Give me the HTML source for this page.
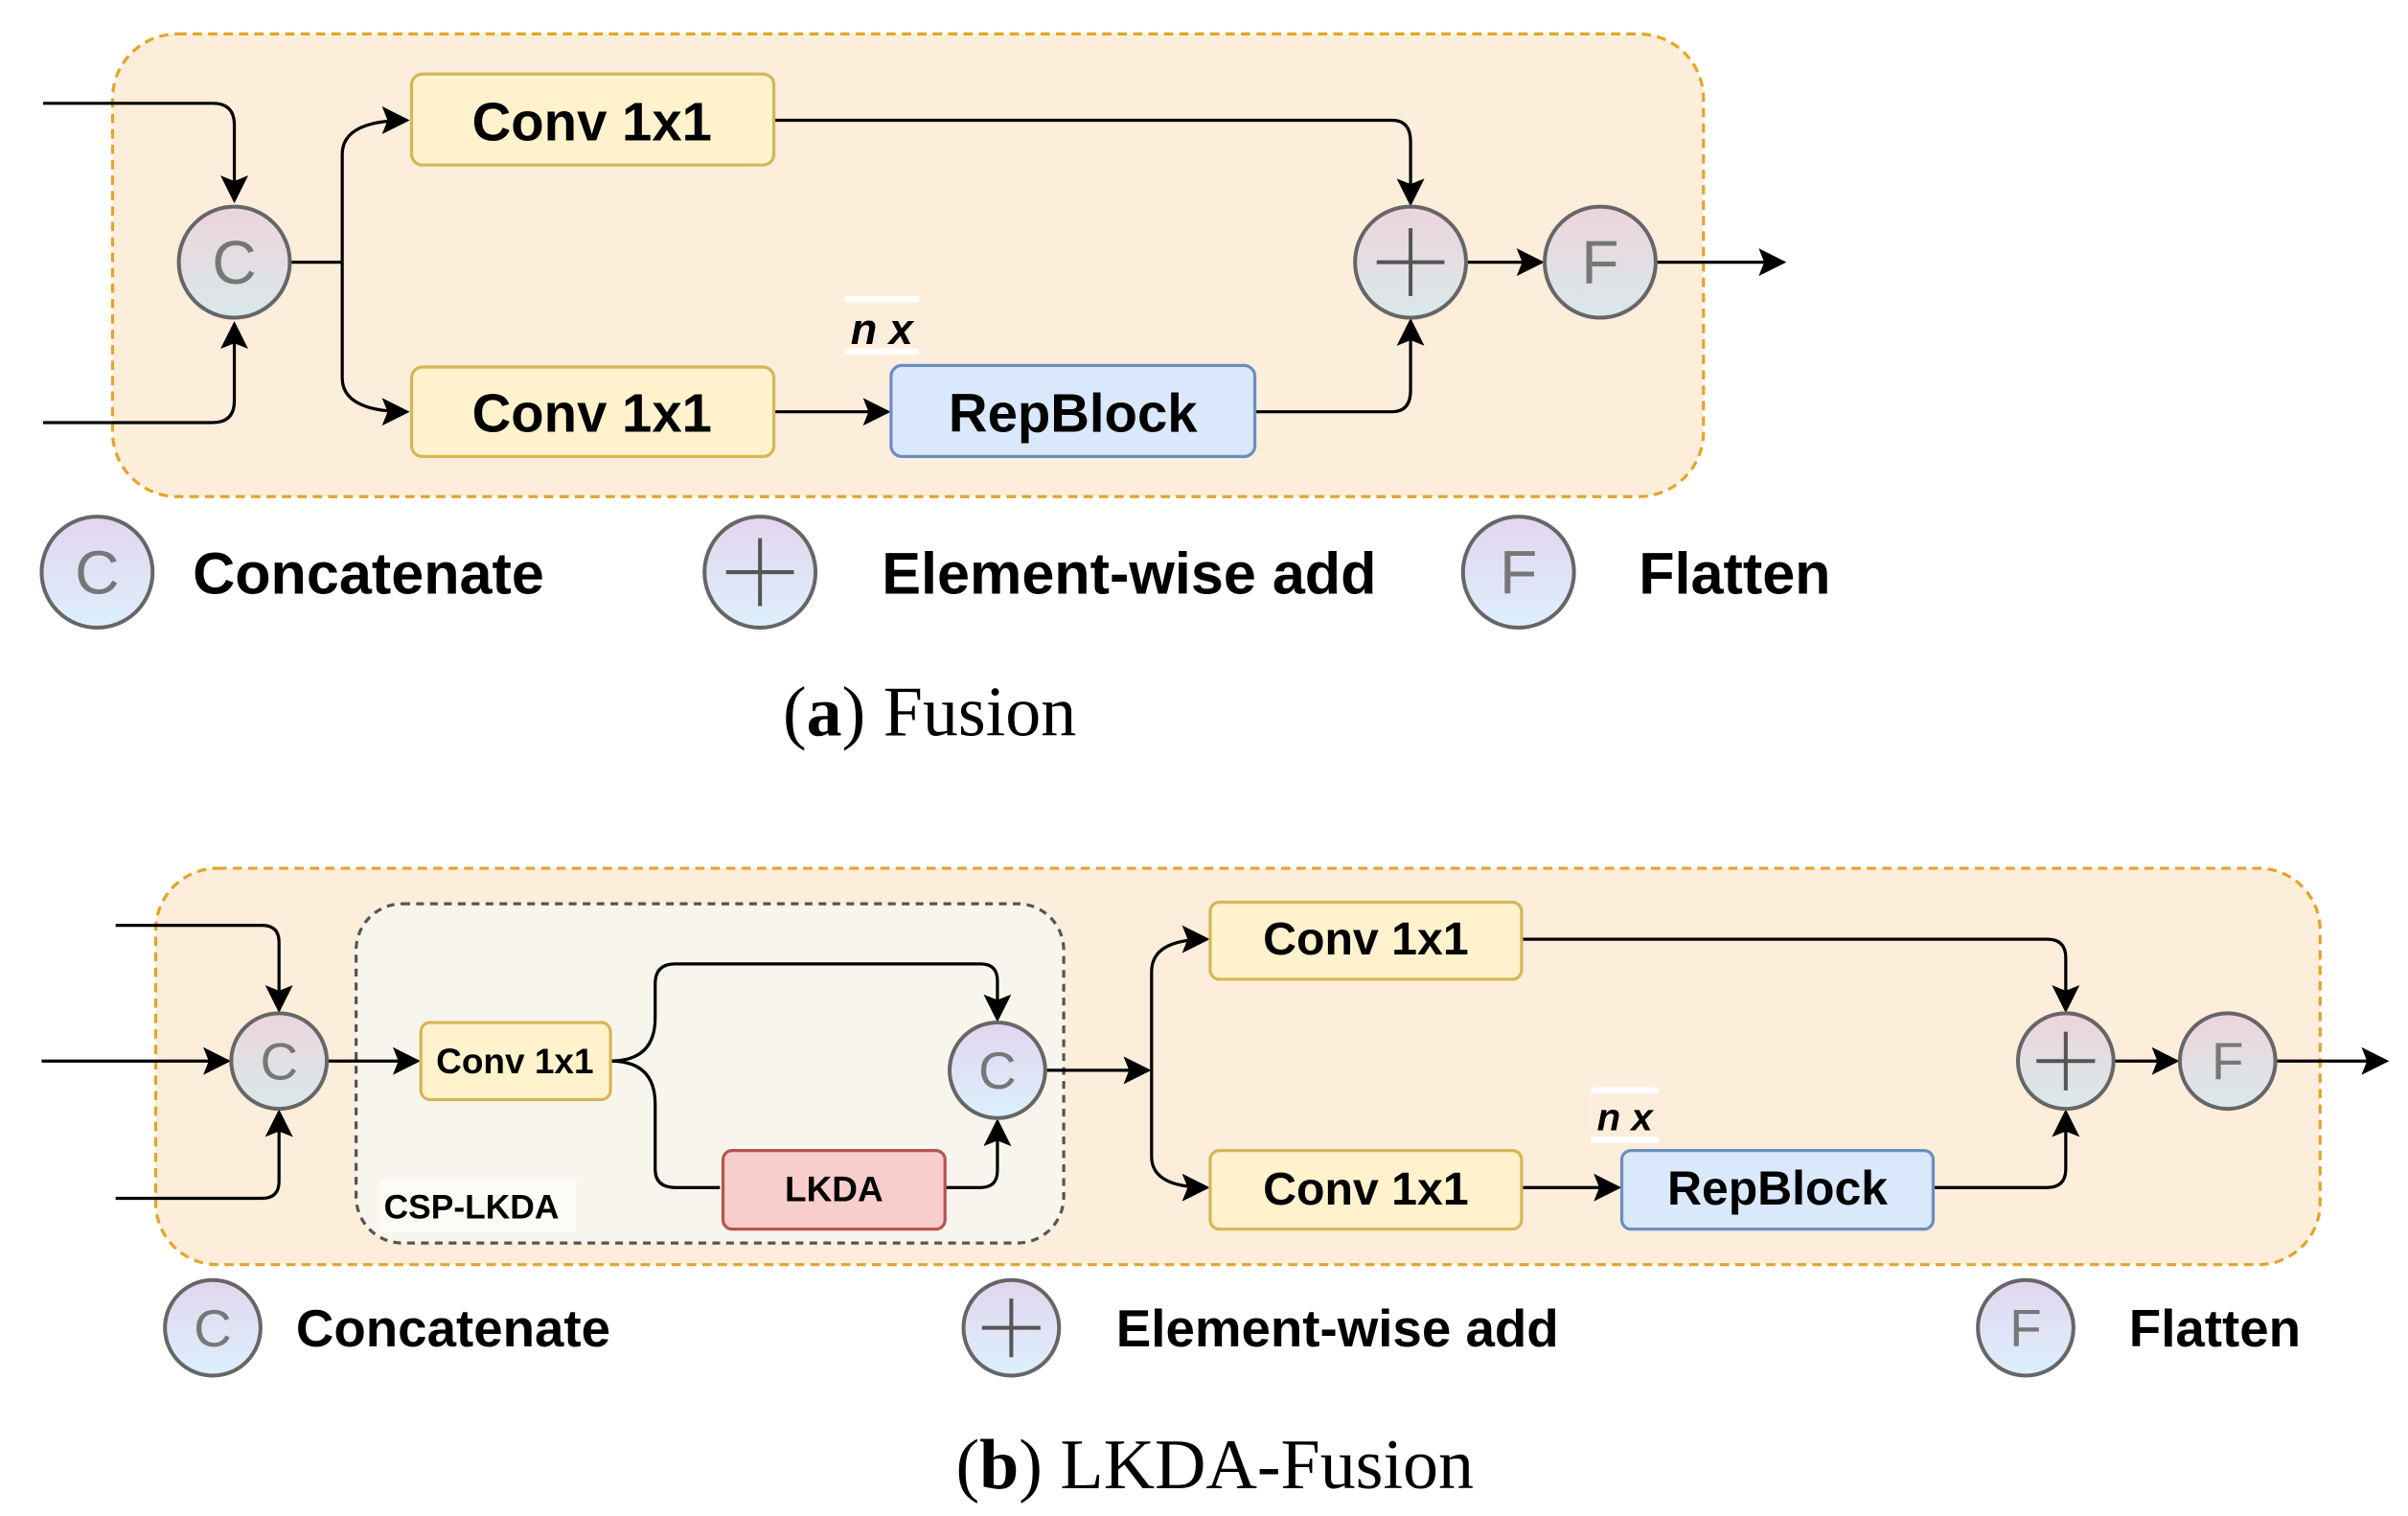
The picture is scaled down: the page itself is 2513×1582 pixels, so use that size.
<!DOCTYPE html>
<html><head><meta charset="utf-8"><style>
html,body{margin:0;padding:0;background:#fff;}
svg{display:block;}
.sans{font-family:"Liberation Sans",sans-serif;}
</style></head><body>
<svg width="2513" height="1582" viewBox="0 0 1562 983" preserveAspectRatio="none" xmlns="http://www.w3.org/2000/svg">
<defs>
<marker id="ab" viewBox="0 0 10 10" refX="9" refY="5" markerWidth="20" markerHeight="18" orient="auto" markerUnits="userSpaceOnUse"><path d="M0,0 L10,5 L0,10 L2,5 z" fill="#000"/></marker>
<linearGradient id="g1" x1="0" y1="0" x2="0" y2="1"><stop offset="0" stop-color="#ecd4dc"/><stop offset="1" stop-color="#d9e9ea"/></linearGradient>
<linearGradient id="g2" x1="0" y1="0" x2="0" y2="1"><stop offset="0" stop-color="#e3d5ee"/><stop offset="1" stop-color="#dcf0fc"/></linearGradient>
</defs>
<g fill="none" stroke="#000" stroke-width="2">
<rect x="73" y="22" width="1032" height="300" rx="42" fill="#fdeddb" stroke="#e3a52a" stroke-dasharray="6,4" stroke-width="2"/>
<path d="M28,67 H138 Q152,67 152,81 V130" marker-end="url(#ab)"/>
<path d="M28,274 H138 Q152,274 152,260 V210" marker-end="url(#ab)"/>
<path d="M188,170 H222"/>
<path d="M222,170 V100 Q222,78 264,78" marker-end="url(#ab)"/>
<path d="M222,170 V245 Q222,267 264,267" marker-end="url(#ab)"/>
<path d="M502,267 H576" marker-end="url(#ab)"/>
<path d="M502,78 H903 Q915,78 915,92 V132" marker-end="url(#ab)"/>
<path d="M814,267 H903 Q915,267 915,253 V208" marker-end="url(#ab)"/>
<path d="M951,170 H1000" marker-end="url(#ab)"/>
<path d="M1074,170 H1157" marker-end="url(#ab)"/>
<rect x="101" y="563" width="1404" height="257" rx="40" fill="#fdeddb" stroke="#e3a52a" stroke-dasharray="6,4" stroke-width="2"/>
<rect x="231" y="586" width="459" height="220" rx="30" fill="#f8f5ed" stroke="#555" stroke-dasharray="5,4" stroke-width="2"/>
<path d="M75,600 H170 Q181,600 181,611 V655" marker-end="url(#ab)"/>
<path d="M27,688 H148" marker-end="url(#ab)"/>
<path d="M75,777 H170 Q181,777 181,766 V721" marker-end="url(#ab)"/>
<path d="M212,688 H271" marker-end="url(#ab)"/>
<path d="M396,688 Q425,688 425,660 V638 Q425,625 438,625 H636 Q647,625 647,636 V661" marker-end="url(#ab)"/>
<path d="M396,688 Q425,688 425,716 V758 Q425,770 438,770 H467"/>
<path d="M613,770 H636 Q647,770 647,759 V727" marker-end="url(#ab)"/>
<path d="M678,694 H745" marker-end="url(#ab)"/>
<path d="M747,694 V630 Q747,609 783,609" marker-end="url(#ab)"/>
<path d="M747,694 V750 Q747,770 783,770" marker-end="url(#ab)"/>
<path d="M987,770 H1050" marker-end="url(#ab)"/>
<path d="M987,609 H1328 Q1340,609 1340,621 V655" marker-end="url(#ab)"/>
<path d="M1254,770 H1328 Q1340,770 1340,758 V721" marker-end="url(#ab)"/>
<path d="M1371,688 H1412" marker-end="url(#ab)"/>
<path d="M1476,688 H1548" marker-end="url(#ab)"/>
</g>
<g stroke-width="2">
<rect x="267" y="48" width="235" height="59" rx="7" fill="#fff2cc" stroke="#d6b656"/>
<rect x="267" y="238" width="235" height="58" rx="7" fill="#fff2cc" stroke="#d6b656"/>
<rect x="578" y="237" width="236" height="59" rx="7" fill="#dae8fc" stroke="#6c8ebf"/>
<rect x="273" y="663" width="123" height="50" rx="6" fill="#fff2cc" stroke="#d6b656"/>
<rect x="469" y="746" width="144" height="51" rx="6" fill="#f8cecc" stroke="#b85450"/>
<rect x="785" y="585" width="202" height="50" rx="6" fill="#fff2cc" stroke="#d6b656"/>
<rect x="785" y="746" width="202" height="51" rx="6" fill="#fff2cc" stroke="#d6b656"/>
<rect x="1052" y="746" width="202" height="51" rx="6" fill="#dae8fc" stroke="#6c8ebf"/>
</g>
<g stroke="#666" stroke-width="2.5">
<circle cx="152" cy="170" r="36" fill="url(#g1)"/>
<circle cx="915" cy="170" r="36" fill="url(#g1)"/>
<circle cx="1038" cy="170" r="36" fill="url(#g1)"/>
<circle cx="63" cy="371" r="36" fill="url(#g2)"/>
<circle cx="493" cy="371" r="36" fill="url(#g2)"/>
<circle cx="985" cy="371" r="36" fill="url(#g2)"/>
<circle cx="181" cy="688" r="31" fill="url(#g1)"/>
<circle cx="647" cy="694" r="31" fill="url(#g2)"/>
<circle cx="1340" cy="688" r="31" fill="url(#g1)"/>
<circle cx="1445" cy="688" r="31" fill="url(#g1)"/>
<circle cx="138" cy="861" r="31" fill="url(#g2)"/>
<circle cx="656" cy="861" r="31" fill="url(#g2)"/>
<circle cx="1314" cy="861" r="31" fill="url(#g2)"/>
</g>
<g stroke="#555" stroke-width="2.5">
<path d="M893,170 H937 M915,148 V192"/>
<path d="M471,371 H515 M493,349 V393"/>
<path d="M1321,688 H1359 M1340,669 V707"/>
<path d="M637,861 H675 M656,842 V880"/>
</g>
<g class="sans" fill="#777" text-anchor="middle">
<text x="152" y="184" font-size="40">C</text>
<text x="1038" y="184" font-size="40">F</text>
<text x="63" y="385" font-size="40">C</text>
<text x="985" y="385" font-size="40">F</text>
<text x="181" y="700" font-size="34">C</text>
<text x="647" y="706" font-size="34">C</text>
<text x="1445" y="700" font-size="34">F</text>
<text x="138" y="873" font-size="34">C</text>
<text x="1314" y="873" font-size="34">F</text>
</g>
<g class="sans" font-weight="bold" fill="#000">
<text x="384" y="91" font-size="35" text-anchor="middle">Conv 1x1</text>
<text x="384" y="280" font-size="35" text-anchor="middle">Conv 1x1</text>
<text x="696" y="280" font-size="35" text-anchor="middle">RepBlock</text>
<rect x="548" y="192" width="48" height="38" fill="#fff"/>
<rect x="548" y="196" width="48" height="30" fill="#fdeddb"/>
<text x="572" y="223" font-size="28" font-style="italic" text-anchor="middle">n x</text>
<text x="125" y="385" font-size="38">Concatenate</text>
<text x="572" y="385" font-size="38">Element-wise add</text>
<text x="1063" y="385" font-size="38">Flatten</text>
<text x="334" y="696" font-size="23" text-anchor="middle">Conv 1x1</text>
<text x="541" y="779" font-size="23" text-anchor="middle">LKDA</text>
<rect x="246" y="765" width="128" height="34" fill="#fdfbf6"/>
<text x="249" y="790" font-size="22">CSP-LKDA</text>
<text x="886" y="619" font-size="30" text-anchor="middle">Conv 1x1</text>
<text x="886" y="781" font-size="30" text-anchor="middle">Conv 1x1</text>
<text x="1153" y="781" font-size="31" text-anchor="middle">RepBlock</text>
<rect x="1032" y="705" width="44" height="36" fill="#fff"/>
<rect x="1032" y="709" width="44" height="28" fill="#fdeddb"/>
<text x="1054" y="733" font-size="25" font-style="italic" text-anchor="middle">n x</text>
<text x="192" y="873" font-size="34">Concatenate</text>
<text x="724" y="873" font-size="34">Element-wise add</text>
<text x="1381" y="873" font-size="34">Flatten</text>
</g>
<g fill="#000" font-size="46" text-anchor="middle">
<text x="603" y="477" style="font-family:'Liberation Serif',serif">(<tspan font-weight="bold">a</tspan>) Fusion</text>
<text x="788" y="965" style="font-family:'Liberation Serif',serif">(<tspan font-weight="bold">b</tspan>) LKDA-Fusion</text>
</g>
</svg>
</body></html>
